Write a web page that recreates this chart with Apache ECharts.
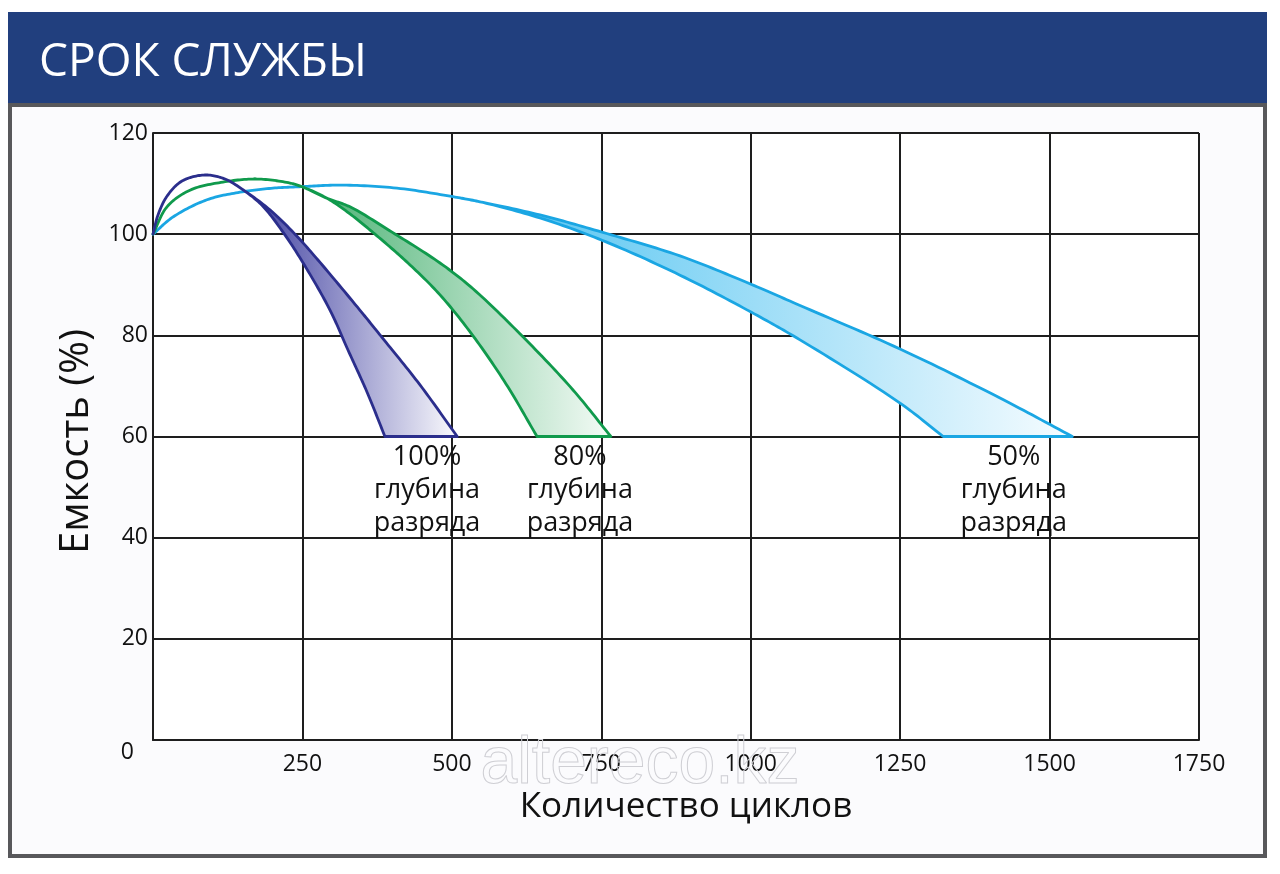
<!DOCTYPE html>
<html>
<head>
<meta charset="utf-8">
<script src="https://cdn.jsdelivr.net/npm/echarts@6/dist/echarts.min.js"></script>
<style>
html,body{margin:0;padding:0;background:#fff;}
#c{width:1280px;height:874px;}
</style>
</head>
<body>
<div id="c"></div>
<script>
// ---------- DATA ----------
const titleText = 'СРОК СЛУЖБЫ';
const xAxisTitle = 'Количество циклов';
const yAxisTitle = 'Емкость (%)';
const xTickValues = [0, 250, 500, 750, 1000, 1250, 1500, 1750];
const yTickValues = [0, 20, 40, 60, 80, 100, 120];

// 100% depth of discharge (navy band)
const cycles100Shared   = [0, 8.4, 23.4, 48.5, 87, 120.5, 149];
const capacity100Shared = [100, 103.8, 107.5, 110.5, 111.7, 110.9, 108.9];
const cycles100Upper    = [195.7, 237.6, 276, 346, 386.5, 446.7, 509];
const capacity100Upper  = [104.8, 100.0, 94.9, 85.0, 79.1, 70.2, 60];
const cycles100Lower    = [182.4, 217.5, 254.3, 296.1, 326.2, 358, 388];
const capacity100Lower  = [105.7, 100.4, 93.7, 85.0, 77.1, 68.8, 60];

// 80% depth of discharge (green band)
const cycles80Shared    = [0, 23.4, 61.9, 117.1, 174, 229.2, 251, 291.1];
const capacity80Shared  = [100, 105.4, 108.7, 110.3, 110.9, 110.1, 109.3, 107.1];
const cycles80Upper     = [329.6, 399.9, 480.2, 535.4, 619, 702.7, 766];
const capacity80Upper   = [105.4, 100.4, 94.3, 89.2, 79.7, 69.2, 60];
const cycles80Lower     = [329.6, 371.4, 426.6, 480.2, 535.4, 590.6, 642.5];
const capacity80Lower   = [104.0, 100.0, 94.3, 88.0, 79.9, 70.4, 60];

// 50% depth of discharge (light-blue band)
const cycles50Shared    = [0, 33.5, 90.3, 145.6, 200.8, 251, 312.9, 408.2, 501.9, 547.1];
const capacity50Shared  = [100, 103.4, 106.8, 108.3, 109.1, 109.4, 109.7, 109.1, 107.4, 106.4];
const cycles50Upper     = [647.5, 751.2, 881.7, 1000.5, 1082.5, 1249.8, 1417.1, 1538];
const capacity50Upper   = [103.8, 100.4, 95.7, 90.1, 85.9, 77.3, 67.6, 60];
const cycles50Lower     = [647.5, 751.2, 881.7, 1000.5, 1082.5, 1249.8, 1322];
const capacity50Lower   = [103.2, 98.8, 91.9, 84.6, 79.1, 66.6, 60];

const depthLabels = ['100%', '80%', '50%'];
const depthCaption = ['глубина', 'разряда'];

// ---------- RENDERING ----------
const FONT = '"Open Sans", "Noto Sans", "DejaVu Sans", sans-serif';

// centripetal Catmull-Rom through pixel points, sampled as bezier segments
function spline(pts, n) {
  const out = [pts[0].slice()];
  const m = pts.length;
  const P = i => {
    if (i < 0) return [2 * pts[0][0] - pts[1][0], 2 * pts[0][1] - pts[1][1]];
    if (i >= m) return [2 * pts[m - 1][0] - pts[m - 2][0], 2 * pts[m - 1][1] - pts[m - 2][1]];
    return pts[i];
  };
  const dist = (a, b) => Math.pow(Math.hypot(a[0] - b[0], a[1] - b[1]), 0.5) || 1e-6;
  for (let i = 0; i < m - 1; i++) {
    const p0 = P(i - 1), p1 = P(i), p2 = P(i + 1), p3 = P(i + 2);
    const d1 = dist(p0, p1), d2 = dist(p1, p2), d3 = dist(p2, p3);
    const c1 = [0, 1].map(j => (d1 * d1 * p2[j] - d2 * d2 * p0[j] + (2 * d1 * d1 + 3 * d1 * d2 + d2 * d2) * p1[j]) / (3 * d1 * (d1 + d2)));
    const c2 = [0, 1].map(j => (d3 * d3 * p1[j] - d2 * d2 * p3[j] + (2 * d3 * d3 + 3 * d3 * d2 + d2 * d2) * p2[j]) / (3 * d3 * (d3 + d2)));
    for (let k = 1; k <= n; k++) {
      const t = k / n, u = 1 - t;
      out.push([0, 1].map(j => u * u * u * p1[j] + 3 * u * u * t * c1[j] + 3 * u * t * t * c2[j] + t * t * t * p2[j]));
    }
  }
  return out;
}

function bandSeries(name, shX, shY, upX, upY, loX, loY, lineColor, fillFrom, fillTo, z) {
  const upC = shX.concat(upX), upV = shY.concat(upY);
  const loC = shX.concat(loX), loV = shY.concat(loY);
  const data = upC.map((c, i) => [c, upV[i]]).concat(loC.map((c, i) => [c, loV[i]]));
  return {
    type: 'custom',
    name: name,
    coordinateSystem: 'cartesian2d',
    silent: true,
    z: z,
    data: data,
    renderItem: function (params, api) {
      if (params.dataIndex !== 0) return null;
      const up = upC.map((c, i) => api.coord([c, upV[i]]));
      const lo = loC.map((c, i) => api.coord([c, loV[i]]));
      const split = api.coord([shX[shX.length - 1], shY[shY.length - 1]]);
      const end = up[up.length - 1];
      const pts = spline(up, 16).concat(spline(lo, 16).reverse());
      return {
        type: 'polygon',
        shape: { points: pts },
        style: {
          fill: {
            type: 'linear', x: split[0], y: 0, x2: end[0], y2: 0, global: true,
            colorStops: [{ offset: 0, color: fillFrom }, { offset: 1, color: fillTo }]
          },
          stroke: lineColor,
          lineWidth: 2.8,
          lineJoin: 'round'
        }
      };
    }
  };
}

const bandEnds = [
  [cycles100Lower[cycles100Lower.length - 1], cycles100Upper[cycles100Upper.length - 1]],
  [cycles80Lower[cycles80Lower.length - 1], cycles80Upper[cycles80Upper.length - 1]],
  [cycles50Lower[cycles50Lower.length - 1], cycles50Upper[cycles50Upper.length - 1]]
];
const labelData = bandEnds.map((e, i) => ({ value: [(e[0] + e[1]) / 2, 60], pct: depthLabels[i] }));

const chart = echarts.init(document.getElementById('c'), null, { renderer: 'canvas', width: 1280, height: 874 });

const axisLineStyle = { color: '#1e1e1e', width: 2 };

chart.setOption({
  backgroundColor: '#ffffff',
  animation: false,
  graphic: [
    { type: 'rect', z: -20, shape: { x: 8, y: 12, width: 1259, height: 91 }, style: { fill: '#213f7e' } },
    { type: 'rect', z: -20, shape: { x: 10, y: 105, width: 1255, height: 751 }, style: { fill: '#fbfbfd', stroke: '#58585b', lineWidth: 4 } },
    { type: 'text', z: 10, x: 39, y: 63, style: { text: titleText, fill: '#ffffff', font: '500 46px ' + FONT, verticalAlign: 'middle', align: 'left' } },
    { type: 'text', z: 100, x: 640, y: 765, silent: true, style: { text: 'altereco.kz', fill: 'rgba(255,255,255,0)', stroke: '#cfcfd4', lineWidth: 1, font: '66px "Liberation Sans", sans-serif', verticalAlign: 'middle', align: 'center' } }
  ],
  grid: { left: 153, right: 81, top: 133, bottom: 134, show: true, backgroundColor: '#ffffff', borderWidth: 0 },
  xAxis: {
    type: 'value', min: 0, max: 1750, interval: 250,
    name: xAxisTitle, nameLocation: 'middle', nameGap: 50,
    nameTextStyle: { fontFamily: FONT, fontSize: 35, color: '#111', padding: [0, 0, 0, 20] },
    axisLine: { show: true, lineStyle: axisLineStyle },
    axisTick: { show: false },
    splitLine: { show: true, lineStyle: axisLineStyle },
    axisLabel: {
      margin: 13, fontFamily: FONT, fontSize: 23, color: '#111',
      formatter: v => (xTickValues.indexOf(v) > 0 ? String(v) : '')
    }
  },
  yAxis: {
    type: 'value', min: 0, max: 120, interval: 20,
    name: yAxisTitle, nameLocation: 'middle', nameGap: 56,
    nameTextStyle: { fontFamily: FONT, fontSize: 40, color: '#111', padding: [0, 10, 0, 0] },
    axisLine: { show: true, lineStyle: axisLineStyle },
    axisTick: { show: false },
    splitLine: { show: true, lineStyle: axisLineStyle },
    axisLabel: {
      margin: 5, fontFamily: FONT, fontSize: 23, color: '#111',
      formatter: v => (v === yTickValues[0] ? '{z|' + v + '}' : String(v)),
      rich: { z: { fontFamily: FONT, fontSize: 23, color: '#111', padding: [24, 14, 0, 0] } }
    }
  },
  series: [
    bandSeries('50%', cycles50Shared, capacity50Shared, cycles50Upper, capacity50Upper, cycles50Lower, capacity50Lower,
      '#1aa6e3', '#4fc2f0', '#f6fcff', 3),
    bandSeries('80%', cycles80Shared, capacity80Shared, cycles80Upper, capacity80Upper, cycles80Lower, capacity80Lower,
      '#109a4c', '#55b67b', '#f4fbf6', 4),
    bandSeries('100%', cycles100Shared, capacity100Shared, cycles100Upper, capacity100Upper, cycles100Lower, capacity100Lower,
      '#2b2e8c', '#3a3a9d', '#fafafd', 5),
    {
      type: 'scatter', silent: true, symbolSize: 0, z: 6,
      itemStyle: { opacity: 1 },
      data: labelData,
      label: {
        show: true, position: 'bottom', distance: 4, offset: [6, 0], opacity: 1,
        fontFamily: FONT, fontSize: 27, lineHeight: 33, color: '#111', align: 'center',
        formatter: p => p.data.pct + '\n' + depthCaption.join('\n')
      }
    }
  ]
});
</script>
</body>
</html>
